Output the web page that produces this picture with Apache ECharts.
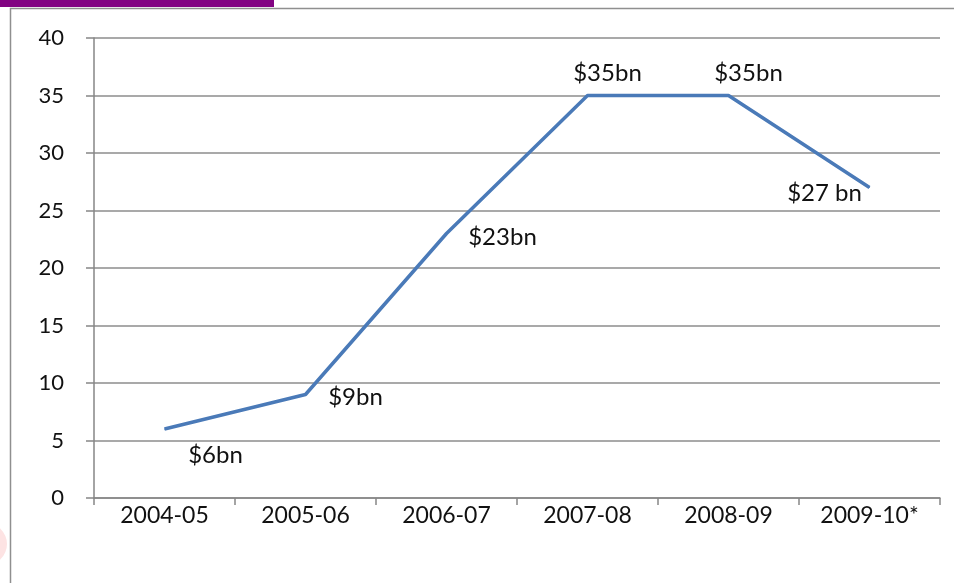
<!DOCTYPE html>
<html>
<head>
<meta charset="utf-8">
<title>Annual value, 2004-05 to 2009-10</title>
<script src="https://cdn.jsdelivr.net/npm/echarts@6/dist/echarts.min.js"></script>
<style>
  html, body { margin: 0; padding: 0; background: #fff; }
  #chart { width: 954px; height: 583px; }
</style>
</head>
<body>
<div id="chart"></div>
<script>
// Financial years on the category axis
const categories = ['2004-05', '2005-06', '2006-07', '2007-08', '2008-09', '2009-10*'];
// Value in $ billions for each year
const values = [6, 9, 23, 35, 35, 27];
// Text shown beside each point
const valueLabels = ['$6bn', '$9bn', '$23bn', '$35bn', '$35bn', '$27 bn'];
// Y axis range and step
const yMin = 0, yMax = 40, yStep = 5;

// Where each label sits relative to its point (px)
const labelOffsets = [[51, 26], [50, 3], [56, 4], [20, -22], [20, -22], [-45, 6]];

const font = 'Lato, "Open Sans", sans-serif';

const chart = echarts.init(document.getElementById('chart'), null, { renderer: 'canvas' });

chart.setOption({
  animation: false,
  backgroundColor: '#ffffff',
  grid: { left: 94, right: 14, top: 38, bottom: 85, containLabel: false },
  graphic: [
    {
      type: 'circle',
      shape: { cx: -14, cy: 544, r: 21 },
      style: { fill: '#fde3e3' },
      z: -2
    },
    {
      type: 'rect',
      shape: { x: 10.5, y: 8.5, width: 1000, height: 700 },
      style: { fill: 'none', stroke: '#8f8f8f', lineWidth: 1.5 },
      z: -1
    },
    {
      type: 'rect',
      shape: { x: 0, y: 0, width: 274, height: 7 },
      style: { fill: '#820382' }
    }
  ],
  xAxis: {
    type: 'category',
    data: categories,
    boundaryGap: true,
    axisLine: { lineStyle: { color: '#868686', width: 1.5 } },
    axisTick: { show: true, alignWithLabel: false, length: 7, lineStyle: { color: '#868686', width: 1.5 } },
    axisLabel: { color: '#111', fontSize: 23, fontFamily: font, margin: 6 },
    splitLine: { show: false }
  },
  yAxis: {
    type: 'value',
    min: yMin,
    max: yMax,
    interval: yStep,
    axisLine: { show: true, lineStyle: { color: '#868686', width: 1.5 } },
    axisTick: { show: true, length: 8, lineStyle: { color: '#868686', width: 1.5 } },
    axisLabel: { color: '#111', fontSize: 22, fontFamily: font, margin: 30 },
    splitLine: { show: true, lineStyle: { color: '#8c8c8c', width: 1.5 } }
  },
  series: [
    {
      type: 'line',
      data: values.map((v, i) => ({
        value: v,
        label: {
          show: true,
          position: 'inside',
          offset: labelOffsets[i],
          formatter: () => valueLabels[i]
        }
      })),
      symbol: 'circle',
      symbolSize: 1,
      showSymbol: true,
      itemStyle: { color: '#4a7ab8' },
      lineStyle: { color: '#4a7ab8', width: 3.5 },
      label: { color: '#111', fontSize: 24, fontFamily: font },
      z: 3
    }
  ]
});
</script>
</body>
</html>
